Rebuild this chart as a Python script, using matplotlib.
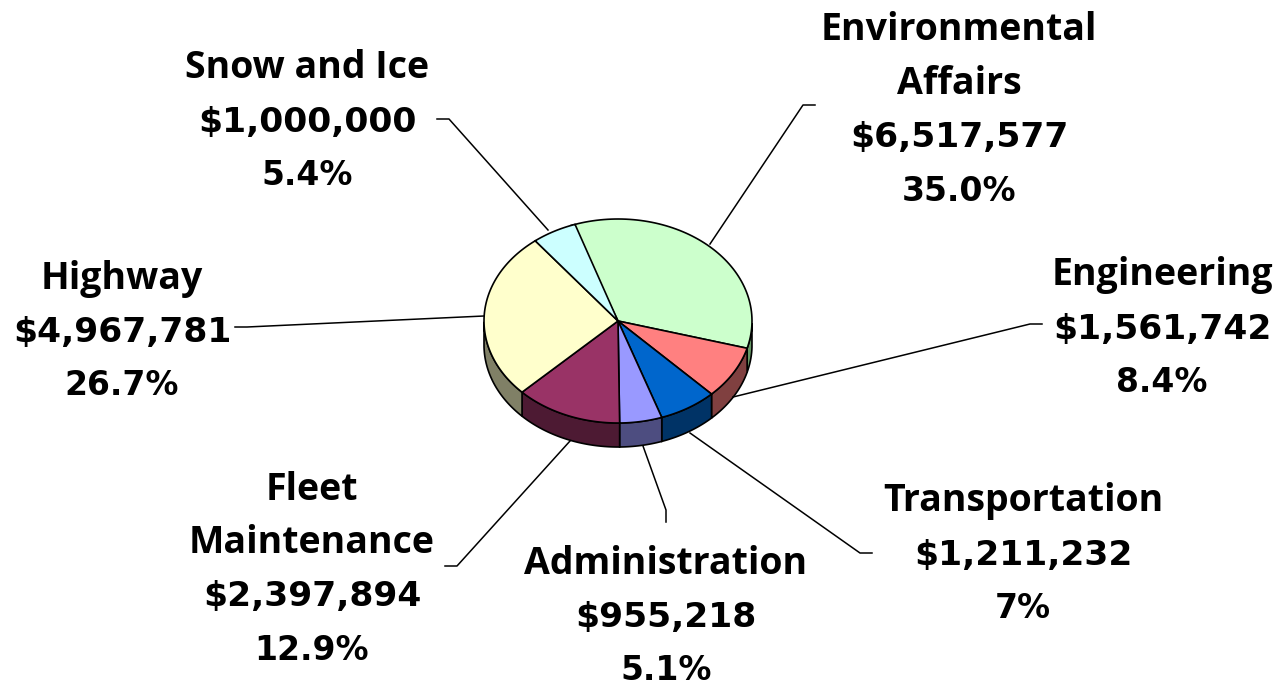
import numpy as np
from matplotlib import pyplot as plt
from matplotlib.patches import Polygon

# Slices clockwise from the top of the pie
names = ['Environmental\nAffairs', 'Engineering', 'Transportation', 'Administration',
         'Fleet\nMaintenance', 'Highway', 'Snow and Ice']
amounts = ['$6,517,577', '$1,561,742', '$1,211,232', '$955,218', '$2,397,894', '$4,967,781', '$1,000,000']
percents = ['35.0%', '8.4%', '7%', '5.1%', '12.9%', '26.7%', '5.4%']
shares = [35.0, 8.4, 7.0, 5.1, 12.9, 26.7, 5.4]
top_colors = ['#CCFFCC', '#FF8080', '#0066CC', '#9999FF', '#993366', '#FFFFCC', '#CCFFFF']
side_colors = ['#669966', '#804040', '#003366', '#4D4D80', '#4D1A33', '#808066', '#668080']
label_x = [959, 1162, 1023, 666, 312, 122, 307]
label_top = [30.5, 275.5, 501.5, 563.5, 489.5, 278.5, 68.5]
leader_lines = [[(815, 105), (803, 105), (710, 244)],
                [(1042, 324), (1030, 324), (733, 397)],
                [(872, 553), (860, 553), (690, 433)],
                [(666, 522), (666, 510), (643, 446)],
                [(445, 566), (457, 566), (570, 441)],
                [(235, 327), (247, 327), (484, 316)],
                [(437, 119), (449, 119), (548, 230)]]

cx, cy = 618, 321
rx, ry = 134, 102
depth = 24
step = 53.7
start = np.deg2rad(110.5)

fig = plt.figure(figsize=(12.8, 6.86), dpi=100)
ax = fig.add_axes([0, 0, 1, 1])
ax.set_xlim(0, 1280)
ax.set_ylim(686, 0)
ax.axis('off')

edges = start - np.cumsum([0] + shares) / 100 * 2 * np.pi

# Rim first, then the top faces
for i in range(len(shares)):
    t = np.linspace(edges[i], edges[i + 1], 80)
    t = t[np.sin(t) <= 0]
    if len(t) < 2:
        continue
    x = cx + rx * np.cos(t)
    y = cy - ry * np.sin(t)
    pts = np.vstack([np.c_[x, y], np.c_[x, y + depth][::-1]])
    ax.add_patch(Polygon(pts, facecolor=side_colors[i], edgecolor='black', linewidth=1.2))

for i in range(len(shares)):
    t = np.linspace(edges[i], edges[i + 1], 80)
    pts = np.vstack([[cx, cy], np.c_[cx + rx * np.cos(t), cy - ry * np.sin(t)]])
    ax.add_patch(Polygon(pts, facecolor=top_colors[i], edgecolor='black', linewidth=1.2))

for line in leader_lines:
    xs, ys = zip(*line)
    ax.plot(xs, ys, color='black', linewidth=1.1)

# Each label line is placed on its own so the spacing can follow the original
for i in range(len(names)):
    y = label_top[i]
    for part in names[i].split('\n'):
        ax.text(label_x[i], y, part, ha='center', va='center', fontsize=27,
                fontweight='bold', family='Open Sans')
        y += step
    ax.text(label_x[i], y, amounts[i], ha='center', va='center', fontsize=24.8,
            fontweight='bold', family='DejaVu Sans')
    y += step
    ax.text(label_x[i], y, percents[i], ha='center', va='center', fontsize=23.8,
            fontweight='bold', family='DejaVu Sans')

fig.savefig('out.png', dpi=100)
